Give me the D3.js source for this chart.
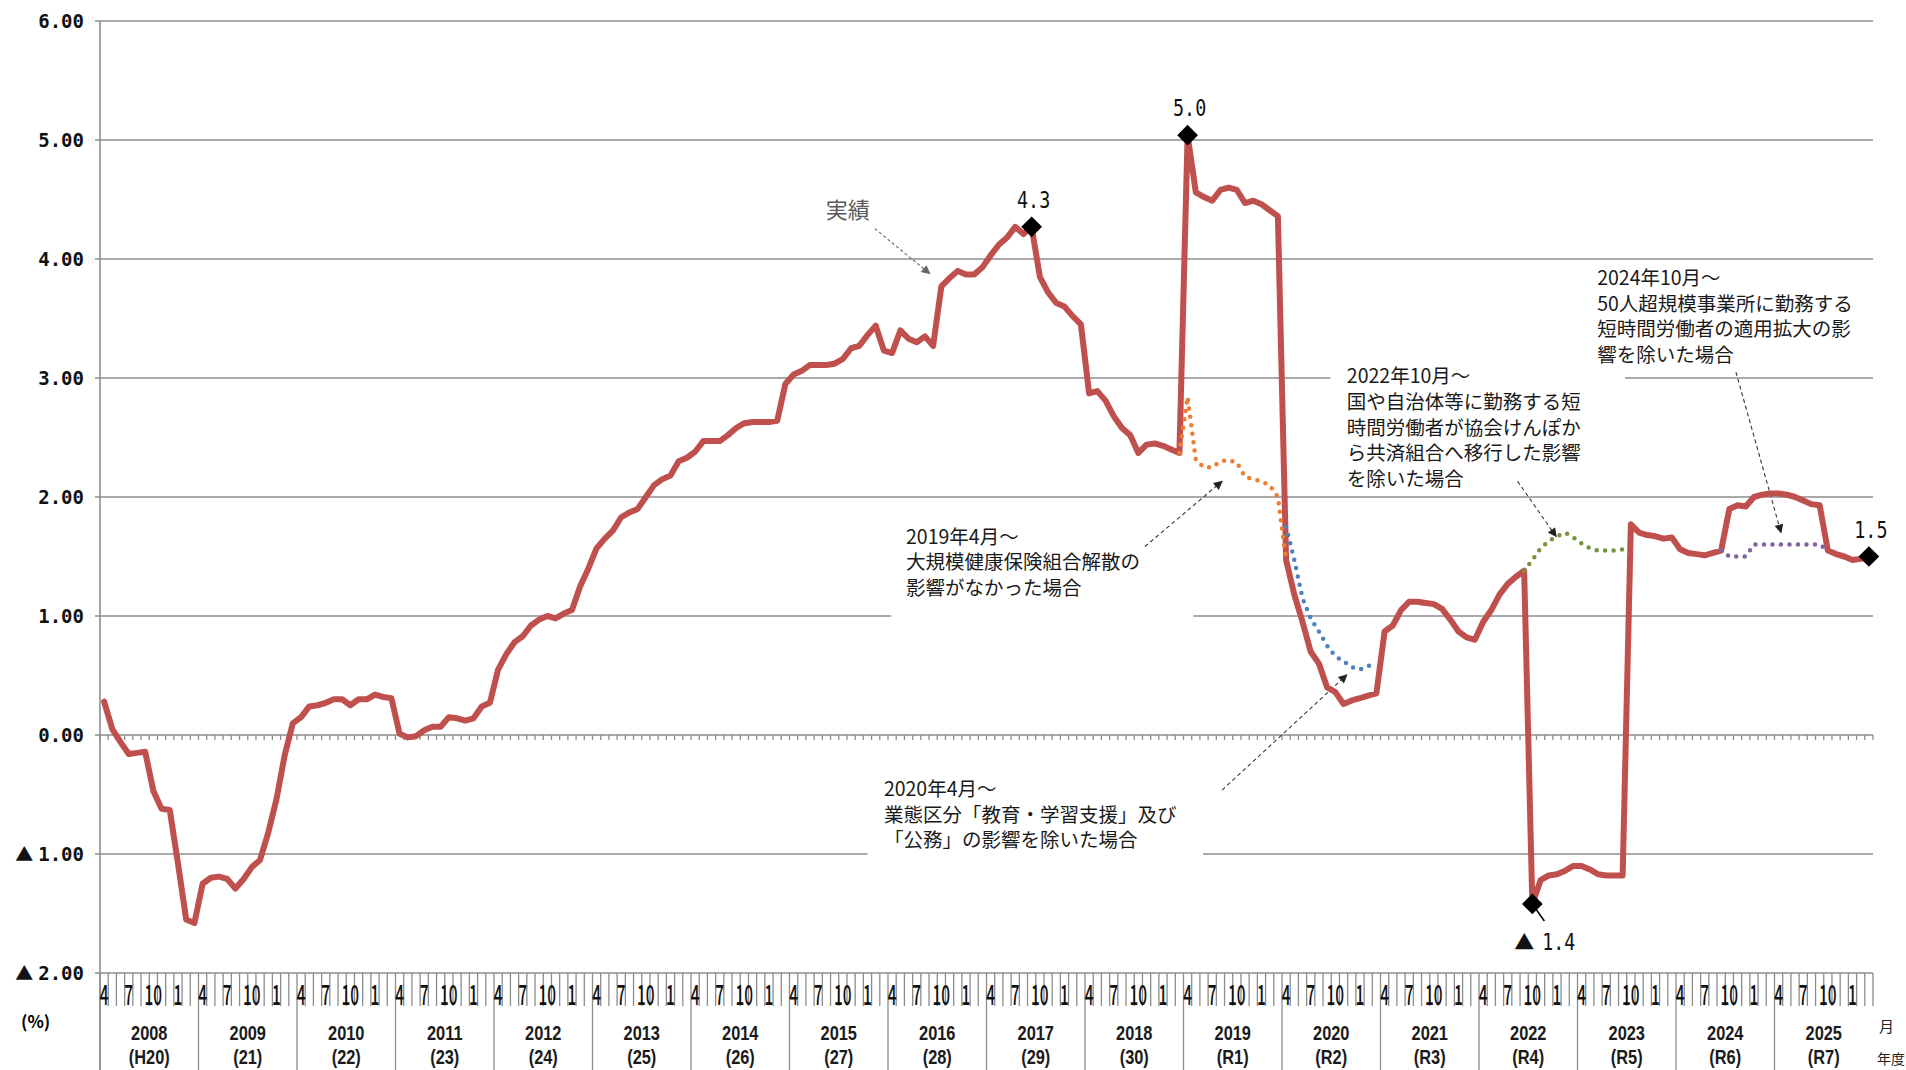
<!DOCTYPE html>
<html>
<head>
<meta charset="utf-8">
<script src="https://cdn.jsdelivr.net/npm/d3@7"></script>
<style>
  body { margin: 0; background: #fff; }
  svg { display: block; }
</style>
</head>
<body>
<div id="chart"></div>
<script>
// fiscal years (April - March) and their era labels
const fiscalYears = ["2008","2009","2010","2011","2012","2013","2014","2015","2016",
  "2017","2018","2019","2020","2021","2022","2023","2024","2025"];
const eraLabels = ["(H20)","(21)","(22)","(23)","(24)","(25)","(26)","(27)","(28)",
  "(29)","(30)","(R1)","(R2)","(R3)","(R4)","(R5)","(R6)","(R7)"];
const monthLabels = ["4","","","7","","","10","","","1","",""];
const yTicks = [-2, -1, 0, 1, 2, 3, 4, 5, 6];

// 実績 : monthly values from April 2008, one row per fiscal year
const actual = [
  0.28, 0.05, -0.06, -0.16, -0.15, -0.14, -0.47, -0.62, -0.63, -1.08, -1.55, -1.58,
  -1.25, -1.20, -1.19, -1.21, -1.29, -1.21, -1.11, -1.05, -0.82, -0.54, -0.17, 0.10,
  0.15, 0.24, 0.25, 0.27, 0.30, 0.30, 0.25, 0.30, 0.30, 0.34, 0.32, 0.31,
  0.01, -0.02, -0.01, 0.04, 0.07, 0.07, 0.15, 0.14, 0.12, 0.14, 0.24, 0.27,
  0.55, 0.68, 0.78, 0.83, 0.92, 0.97, 1.00, 0.98, 1.02, 1.05, 1.25, 1.40,
  1.57, 1.65, 1.72, 1.83, 1.87, 1.90, 2.00, 2.10, 2.15, 2.18, 2.30, 2.33,
  2.38, 2.47, 2.47, 2.47, 2.52, 2.58, 2.62, 2.63, 2.63, 2.63, 2.64, 2.95,
  3.03, 3.06, 3.11, 3.11, 3.11, 3.12, 3.16, 3.25, 3.27, 3.36, 3.44, 3.23,
  3.21, 3.40, 3.33, 3.30, 3.35, 3.27, 3.77, 3.84, 3.90, 3.87, 3.87, 3.93,
  4.03, 4.12, 4.18, 4.27, 4.21, 4.27, 3.85, 3.72, 3.63, 3.60, 3.52, 3.45,
  2.87, 2.89, 2.81, 2.68, 2.58, 2.52, 2.37, 2.44, 2.45, 2.43, 2.40, 2.37,
  5.04, 4.56, 4.52, 4.49, 4.58, 4.60, 4.58, 4.47, 4.49, 4.46, 4.41, 4.36,
  1.47, 1.18, 0.95, 0.70, 0.60, 0.40, 0.36, 0.26, 0.29, 0.31, 0.33, 0.35,
  0.87, 0.92, 1.05, 1.12, 1.12, 1.11, 1.10, 1.06, 0.97, 0.87, 0.82, 0.80,
  0.95, 1.05, 1.18, 1.27, 1.33, 1.38, -1.42, -1.22, -1.18, -1.17, -1.14, -1.10,
  -1.10, -1.13, -1.17, -1.18, -1.18, -1.18, 1.77, 1.70, 1.68, 1.67, 1.65, 1.66,
  1.56, 1.53, 1.52, 1.51, 1.53, 1.55, 1.90, 1.93, 1.92, 2.00, 2.02, 2.03,
  2.03, 2.02, 2.00, 1.97, 1.94, 1.93, 1.55, 1.52, 1.50, 1.47, 1.48, 1.50
];

// adjusted series (start = month index from April 2008)
const noDissolutionStart = 131;
const noDissolution = [2.37, 2.84, 2.31, 2.25, 2.25, 2.30, 2.31, 2.29, 2.17, 2.15, 2.13, 2.10, 2.00, 1.47];
const exclEduPublicStart = 144;
const exclEduPublic = [1.75, 1.47, 1.15, 0.98, 0.87, 0.75, 0.66, 0.62, 0.57, 0.55, 0.58, 0.60];
const exclGovShiftStart = 173;
const exclGovShift = [1.38, 1.47, 1.57, 1.63, 1.67, 1.70, 1.66, 1.61, 1.57, 1.55, 1.55, 1.55, 1.56];
const excl50Start = 197;
const excl50 = [1.55, 1.50, 1.50, 1.50, 1.60, 1.60, 1.60, 1.60, 1.60, 1.60, 1.60, 1.60, 1.60, 1.55];

// labelled points (month index)
const markedMonths = [113, 132, 174, 215];

const W = 1906, H = 1070;
const nMonths = fiscalYears.length * 12;
const monoFont = "'DejaVu Sans Mono', monospace";
const cjkFont = "'Noto Sans CJK JP', sans-serif";
const yearFont = "'Liberation Sans', Arial, sans-serif";

const svg = d3.select("#chart").append("svg")
  .attr("width", W).attr("height", H)
  .attr("font-family", "'Noto Sans CJK JP', 'Noto Sans', sans-serif");

const x = d3.scaleBand().domain(d3.range(nMonths)).range([100, 1873]);
const bw = x.bandwidth();
const xc = i => x(i) + bw / 2;
const edge = k => 100 + k * bw;
const y = d3.scaleLinear().domain([-2, 6]).range([973, 21]);

const gridColor = "#8c8c8c";

// horizontal gridlines + y ticks
svg.append("g").selectAll("line").data(yTicks).join("line")
  .attr("x1", 95).attr("x2", 1873)
  .attr("y1", d => y(d)).attr("y2", d => y(d))
  .attr("stroke", gridColor).attr("stroke-width", 1.6);

// left axis
svg.append("line").attr("x1", 100).attr("x2", 100).attr("y1", y(6)).attr("y2", H)
  .attr("stroke", gridColor).attr("stroke-width", 1.6);

// y labels (negative values shown with ▲)
const yLab = svg.append("g").selectAll("text").data(yTicks).join("text")
  .attr("x", 84).attr("y", d => y(d) + 7)
  .attr("text-anchor", "end")
  .attr("font-size", 19).attr("font-weight", "bold").attr("fill", "#111");
yLab.filter(d => d < 0).append("tspan")
  .attr("font-family", cjkFont).attr("font-weight", "normal").attr("font-size", 18)
  .text("▲");
yLab.append("tspan")
  .attr("font-family", monoFont)
  .attr("dx", d => d < 0 ? 5 : 0)
  .text(d => Math.abs(d).toFixed(2));

svg.append("text").attr("x", 21).attr("y", 1028)
  .attr("font-size", 17).attr("font-weight", "bold").text("(%)");

// small ticks under the zero line
svg.append("g").selectAll("line").data(d3.range(nMonths + 1)).join("line")
  .attr("x1", edge).attr("x2", edge)
  .attr("y1", y(0)).attr("y2", y(0) + 5)
  .attr("stroke", gridColor).attr("stroke-width", 1.3);

// month / year separators on the category axis
svg.append("g").selectAll("line").data(d3.range(nMonths + 1)).join("line")
  .attr("x1", edge).attr("x2", edge)
  .attr("y1", y(-2))
  .attr("y2", k => (k % 12 === 0 && k < nMonths) ? H : 1006)
  .attr("stroke", gridColor).attr("stroke-width", 1.3);

svg.append("g").selectAll("text")
  .data(d3.range(nMonths).filter(i => monthLabels[i % 12] !== ""))
  .join("text")
  .attr("transform", i => `translate(${xc(i)},1005) scale(0.55,1)`)
  .attr("text-anchor", "middle").attr("font-size", 28).attr("font-weight", 500).attr("fill", "#111")
  .text(i => monthLabels[i % 12]);

const yearG = svg.append("g").selectAll("g").data(fiscalYears).join("g")
  .attr("transform", (d, k) => `translate(${(edge(k * 12) + edge(k * 12 + 12)) / 2},0)`)
  .attr("font-family", yearFont).attr("font-size", 21).attr("font-weight", "bold").attr("fill", "#1a1a1a");
yearG.append("text")
  .attr("transform", "translate(0,1040) scale(0.78,1)")
  .attr("text-anchor", "middle")
  .text(d => d);
yearG.append("text")
  .attr("transform", "translate(0,1064) scale(0.78,1)")
  .attr("text-anchor", "middle")
  .text((d, k) => eraLabels[k]);

svg.append("text").attr("x", 1879).attr("y", 1032).attr("font-size", 15).attr("fill", "#222").text("月");
svg.append("text").attr("x", 1877).attr("y", 1064).attr("font-size", 14).attr("fill", "#222").text("年度");

// annotation boxes (white, hide gridlines behind the text)
const notes = [
  { i: 97.7, v: [1.668, 1.452, 1.237], box: [95.9, 132.7, 1.84, 0.93],
    lines: ["2019年4月～", "大規模健康保険組合解散の", "影響がなかった場合"],
    arrow: [126.8, 1.584, 136.2, 2.132] },
  { i: 95.0, v: [-0.455, -0.671, -0.886], box: [93.0, 133.9, -0.30, -1.09],
    lines: ["2020年4月～", "業態区分「教育・学習支援」及び", "「公務」の影響を除いた場合"],
    arrow: [136.2, -0.463, 151.4, 0.506] },
  { i: 151.4, v: [3.016, 2.800, 2.584, 2.368, 2.152], box: [149.4, 185.3, 3.15, 2.04],
    lines: ["2022年10月～", "国や自治体等に勤務する短", "時間労働者が協会けんぽか", "ら共済組合へ移行した影響", "を除いた場合"],
    arrow: [172.2, 2.132, 176.9, 1.668] },
  { i: 181.9, v: [3.842, 3.626, 3.411, 3.195], box: null,
    lines: ["2024年10月～", "50人超規模事業所に勤務する", "短時間労働者の適用拡大の影", "響を除いた場合"],
    arrow: [198.8, 3.05, 204.3, 1.70] }
];

const xi = i => 100 + (i + 0.5) * bw;

const defs = svg.append("defs");
[["arrBlack", "#222"], ["arrGray", "#666"]].forEach(([id, c]) => {
  defs.append("marker").attr("id", id)
    .attr("viewBox", "0 0 10 10").attr("refX", 9).attr("refY", 5)
    .attr("markerWidth", 11).attr("markerHeight", 9)
    .attr("markerUnits", "userSpaceOnUse").attr("orient", "auto")
    .append("path").attr("d", "M0,0 L10,5 L0,10 z").attr("fill", c);
});

notes.forEach(n => {
  if (n.box) {
    svg.append("rect")
      .attr("x", xi(n.box[0])).attr("y", y(n.box[2]))
      .attr("width", xi(n.box[1]) - xi(n.box[0]))
      .attr("height", y(n.box[3]) - y(n.box[2]))
      .attr("fill", "#fff");
  }
  n.lines.forEach((t, k) => {
    svg.append("text").attr("x", xi(n.i)).attr("y", y(n.v[k]) + 7)
      .attr("font-size", 19.5).attr("fill", "#1a1a1a").text(t);
  });
  svg.append("line")
    .attr("x1", xi(n.arrow[0])).attr("y1", y(n.arrow[1]))
    .attr("x2", xi(n.arrow[2])).attr("y2", y(n.arrow[3]))
    .attr("stroke", "#333").attr("stroke-width", 1.1)
    .attr("stroke-dasharray", "4 3")
    .attr("marker-end", "url(#arrBlack)");
});

// 実績 label
svg.append("text").attr("x", xi(90.6)).attr("y", y(4.415) + 8)
  .attr("text-anchor", "middle").attr("font-size", 22).attr("fill", "#595959").text("実績");
svg.append("line")
  .attr("x1", xi(93.9)).attr("y1", y(4.255)).attr("x2", xi(100.6)).attr("y2", y(3.876))
  .attr("stroke", "#666").attr("stroke-width", 1.1).attr("stroke-dasharray", "3 2.5")
  .attr("marker-end", "url(#arrGray)");

// lines
const line = d3.line().x(d => xc(d.i)).y(d => y(d.v));
const toPts = (arr, start) => arr.map((v, k) => ({ i: start + k, v }));

const dotted = [
  [noDissolution, noDissolutionStart, "#ED7D31"],
  [exclEduPublic, exclEduPublicStart, "#4F81BD"],
  [exclGovShift, exclGovShiftStart, "#77933C"],
  [excl50, excl50Start, "#8064A2"]
];

svg.append("path").datum(toPts(actual, 0))
  .attr("d", line).attr("fill", "none")
  .attr("stroke", "#C0504D").attr("stroke-width", 6)
  .attr("stroke-linejoin", "round").attr("stroke-linecap", "round");

dotted.forEach(([arr, start, c]) => {
  svg.append("path").datum(toPts(arr, start))
    .attr("d", line).attr("fill", "none")
    .attr("stroke", c).attr("stroke-width", 4.5)
    .attr("stroke-dasharray", "0 8.5").attr("stroke-linecap", "round");
});

// markers and value labels
const diamond = d3.symbol().type(d3.symbolSquare).size(215);
svg.append("g").selectAll("path").data(markedMonths).join("path")
  .attr("d", diamond)
  .attr("transform", i => `translate(${xc(i)},${y(actual[i])}) rotate(45)`)
  .attr("fill", "#000");

svg.append("g").selectAll("text").data(markedMonths.filter(i => actual[i] > 0)).join("text")
  .attr("transform", i => `translate(${xc(i) + 2},${y(actual[i]) - 19}) scale(0.8,1)`)
  .attr("text-anchor", "middle").attr("font-family", monoFont)
  .attr("font-size", 23).attr("fill", "#111")
  .text(i => actual[i].toFixed(1));

const neg = markedMonths.find(i => actual[i] < 0);
svg.append("line")
  .attr("x1", xc(neg)).attr("y1", y(actual[neg]))
  .attr("x2", xc(neg) + 12).attr("y2", y(actual[neg]) + 17)
  .attr("stroke", "#000").attr("stroke-width", 1.5);
const negLab = svg.append("text")
  .attr("transform", `translate(${xc(neg) - 18},${y(actual[neg]) + 46})`)
  .attr("font-size", 23).attr("fill", "#111");
negLab.append("tspan").attr("font-family", cjkFont).attr("font-size", 20).text("▲");
negLab.append("tspan").attr("font-family", monoFont).attr("dx", 8)
  .attr("textLength", 33).attr("lengthAdjust", "spacingAndGlyphs")
  .text(Math.abs(actual[neg]).toFixed(1));
</script>
</body>
</html>
